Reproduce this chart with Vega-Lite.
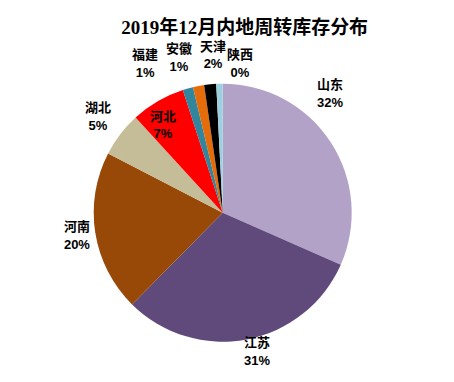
{
  "$schema": "https://vega.github.io/schema/vega-lite/v6.json",
  "autosize": "none",
  "padding": {"left": 0, "top": 40, "right": 0, "bottom": 0},
  "width": 445.4,
  "height": 345.4,
  "background": "white",
  "title": {
    "text": "2019年12月内地周转库存分布",
    "font": "Liberation Serif, Noto Sans CJK SC",
    "fontSize": 19,
    "fontWeight": "bold",
    "color": "#000000",
    "anchor": "middle",
    "frame": "group",
    "dx": 22,
    "dy": 35,
    "offset": 3
  },
  "data": {
    "values": [
      {"prov": "山东", "v": 31.6, "lab": "山东\n32%", "idx": 1},
      {"prov": "江苏", "v": 30.8, "lab": "江苏\n31%", "idx": 2},
      {"prov": "河南", "v": 20.2, "lab": "河南\n20%", "idx": 3},
      {"prov": "湖北", "v": 5.6, "lab": "湖北\n5%", "idx": 4},
      {"prov": "河北", "v": 6.8, "lab": "河北\n7%", "idx": 5},
      {"prov": "福建", "v": 1.3, "lab": "福建\n1%", "idx": 6},
      {"prov": "安徽", "v": 1.4, "lab": "安徽\n1%", "idx": 7},
      {"prov": "天津", "v": 1.5, "lab": "天津\n2%", "idx": 8},
      {"prov": "陕西", "v": 0.8, "lab": "陕西\n0%", "idx": 9}
    ]
  },
  "encoding": {
    "theta": {"field": "v", "type": "quantitative", "stack": true},
    "order": {"field": "idx", "type": "quantitative"}
  },
  "layer": [
    {
      "mark": {"type": "arc", "radius": 129},
      "encoding": {
        "color": {
          "field": "prov",
          "type": "nominal",
          "legend": null,
          "scale": {
            "domain": ["山东", "江苏", "河南", "湖北", "河北", "福建", "安徽", "天津", "陕西"],
            "range": ["#B3A2C7", "#604A7B", "#984807", "#C4BD97", "#FF0000", "#31859C", "#E46C0A", "#000000", "#9DD0DF"]
          }
        }
      }
    },
    {
      "mark": {"type": "text", "radius": 160, "dx": -26.7, "dy": -40.3, "font": "Liberation Sans, Noto Sans CJK SC", "fontSize": 13, "fontWeight": "bold", "lineBreak": "\n", "lineHeight": 18, "baseline": "middle", "align": "center", "color": "#000000"},
      "encoding": {"text": {"condition": {"test": "datum.prov === '山东'", "field": "lab"}, "value": ""}}
    },
    {
      "mark": {"type": "text", "radius": 143.5, "dx": 7.4, "dy": -10.7, "font": "Liberation Sans, Noto Sans CJK SC", "fontSize": 13, "fontWeight": "bold", "lineBreak": "\n", "lineHeight": 18, "baseline": "middle", "align": "center", "color": "#000000"},
      "encoding": {"text": {"condition": {"test": "datum.prov === '江苏'", "field": "lab"}, "value": ""}}
    },
    {
      "mark": {"type": "text", "radius": 147.6, "dx": 0, "dy": -9, "font": "Liberation Sans, Noto Sans CJK SC", "fontSize": 13, "fontWeight": "bold", "lineBreak": "\n", "lineHeight": 18, "baseline": "middle", "align": "center", "color": "#000000"},
      "encoding": {"text": {"condition": {"test": "datum.prov === '河南'", "field": "lab"}, "value": ""}}
    },
    {
      "mark": {"type": "text", "radius": 157.2, "dx": 0, "dy": -9, "font": "Liberation Sans, Noto Sans CJK SC", "fontSize": 13, "fontWeight": "bold", "lineBreak": "\n", "lineHeight": 18, "baseline": "middle", "align": "center", "color": "#000000"},
      "encoding": {"text": {"condition": {"test": "datum.prov === '湖北'", "field": "lab"}, "value": ""}}
    },
    {
      "mark": {"type": "text", "radius": 106.1, "dx": -6.3, "dy": -4.5, "font": "Liberation Sans, Noto Sans CJK SC", "fontSize": 13, "fontWeight": "bold", "lineBreak": "\n", "lineHeight": 17, "baseline": "middle", "align": "center", "color": "#000000"},
      "encoding": {"text": {"condition": {"test": "datum.prov === '河北'", "field": "lab"}, "value": ""}}
    },
    {
      "mark": {"type": "text", "radius": 167.8, "dx": -32.3, "dy": 3.8, "font": "Liberation Sans, Noto Sans CJK SC", "fontSize": 13, "fontWeight": "bold", "lineBreak": "\n", "lineHeight": 18, "baseline": "middle", "align": "center", "color": "#000000"},
      "encoding": {"text": {"condition": {"test": "datum.prov === '福建'", "field": "lab"}, "value": ""}}
    },
    {
      "mark": {"type": "text", "radius": 161.7, "dx": -13.4, "dy": -4.4, "font": "Liberation Sans, Noto Sans CJK SC", "fontSize": 13, "fontWeight": "bold", "lineBreak": "\n", "lineHeight": 18, "baseline": "middle", "align": "center", "color": "#000000"},
      "encoding": {"text": {"condition": {"test": "datum.prov === '安徽'", "field": "lab"}, "value": ""}}
    },
    {
      "mark": {"type": "text", "radius": 159, "dx": 5.8, "dy": -7, "font": "Liberation Sans, Noto Sans CJK SC", "fontSize": 13, "fontWeight": "bold", "lineBreak": "\n", "lineHeight": 17, "baseline": "middle", "align": "center", "color": "#000000"},
      "encoding": {"text": {"condition": {"test": "datum.prov === '天津'", "field": "lab"}, "value": ""}}
    },
    {
      "mark": {"type": "text", "radius": 149.7, "dx": 21, "dy": -8, "font": "Liberation Sans, Noto Sans CJK SC", "fontSize": 13, "fontWeight": "bold", "lineBreak": "\n", "lineHeight": 18, "baseline": "middle", "align": "center", "color": "#000000"},
      "encoding": {"text": {"condition": {"test": "datum.prov === '陕西'", "field": "lab"}, "value": ""}}
    }
  ]
}
